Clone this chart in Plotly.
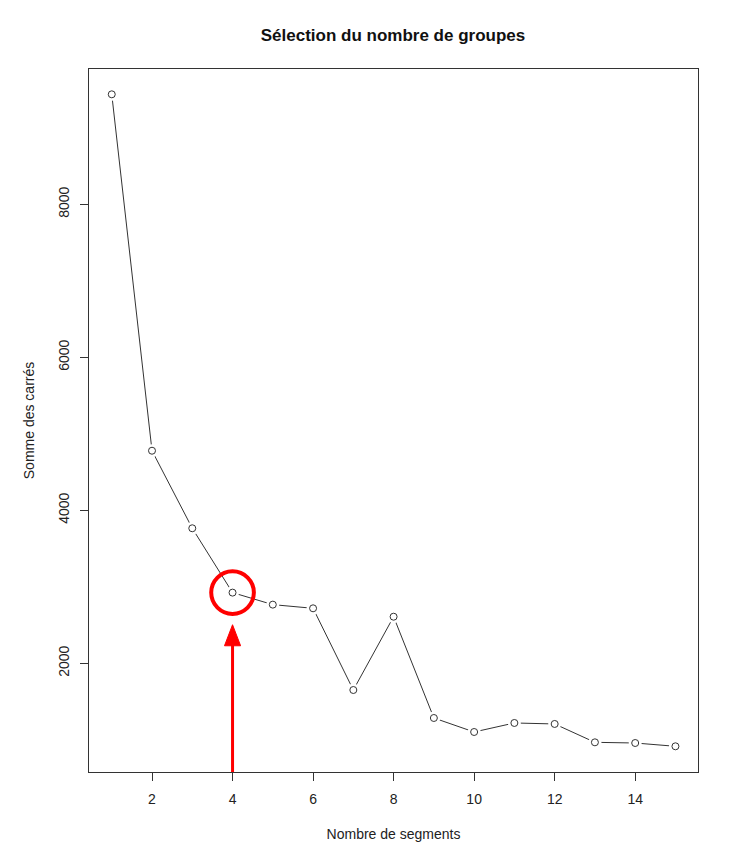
import plotly.graph_objects as go

# Data
k_values = list(range(1, 16))
wss = [9438, 4779, 3765, 2924, 2767, 2719, 1651, 2609, 1285, 1102, 1220, 1207, 967, 958, 915]
x_ticks = [2, 4, 6, 8, 10, 12, 14]
y_ticks = [2000, 4000, 6000, 8000]
chosen_k = 4

FONT = "Liberation Sans, Arial, Helvetica, sans-serif"
fig = go.Figure()

# connecting line
fig.add_trace(go.Scatter(x=k_values, y=wss, mode="lines",
                         line=dict(color="#333333", width=1), hoverinfo="skip", showlegend=False))
# white masks to create gaps around points (R type="b")
fig.add_trace(go.Scatter(x=k_values, y=wss, mode="markers",
                         marker=dict(symbol="circle", size=13, color="white", line=dict(width=0)),
                         hoverinfo="skip", showlegend=False))
# open circle points
fig.add_trace(go.Scatter(x=k_values, y=wss, mode="markers",
                         marker=dict(symbol="circle-open", size=7, color="#333333", line=dict(width=1)),
                         showlegend=False))

# red highlight circle around chosen k
cy = wss[k_values.index(chosen_k)]
rx, ry = 0.53, 278
fig.add_shape(type="circle", xref="x", yref="y",
              x0=chosen_k - rx, x1=chosen_k + rx, y0=cy - ry, y1=cy + ry,
              line=dict(color="#ff0000", width=4))

# red arrow pointing up to the circle
tip_y = cy - 420
head_len = 275
head_half = 0.2
ymin = 579
fig.add_shape(type="line", xref="x", yref="y",
              x0=chosen_k, x1=chosen_k, y0=ymin, y1=tip_y - head_len + 20,
              line=dict(color="#ff0000", width=3))
fig.add_shape(type="path", xref="x", yref="y",
              path=f"M {chosen_k - head_half},{tip_y - head_len} L {chosen_k + head_half},{tip_y - head_len} L {chosen_k},{tip_y} Z",
              fillcolor="#ff0000", line=dict(color="#ff0000", width=1))

fig.update_layout(
    width=750, height=856,
    margin=dict(l=81, r=60, t=61, b=92),
    paper_bgcolor="white", plot_bgcolor="white",
    font=dict(family=FONT, size=14, color="#222222"),
    title=dict(text="<b>Sélection du nombre de groupes</b>", x=(393 - 8) / 750, xanchor="center",
               y=1 - 27 / 856, yanchor="middle", font=dict(family=FONT, size=17, color="#111111")),
    xaxis=dict(range=[0.435, 15.56], tickvals=x_ticks, ticks="outside", ticklen=8,
               tickcolor="#333333", showgrid=False, zeroline=False, showline=True,
               linecolor="#333333", linewidth=1, mirror=True, ticklabelstandoff=6,
               title=dict(text="Nombre de segments", standoff=23, font=dict(size=14))),
    yaxis=dict(range=[579, 9769], tickvals=y_ticks, ticks="outside", ticklen=8,
               tickcolor="#333333", showgrid=False, zeroline=False, showline=True,
               linecolor="#333333", linewidth=1, mirror=True, tickangle=-90, ticklabelstandoff=5,
               title=dict(text="Somme des carrés", standoff=18, font=dict(size=14))),
)

fig.write_html("out.html")
